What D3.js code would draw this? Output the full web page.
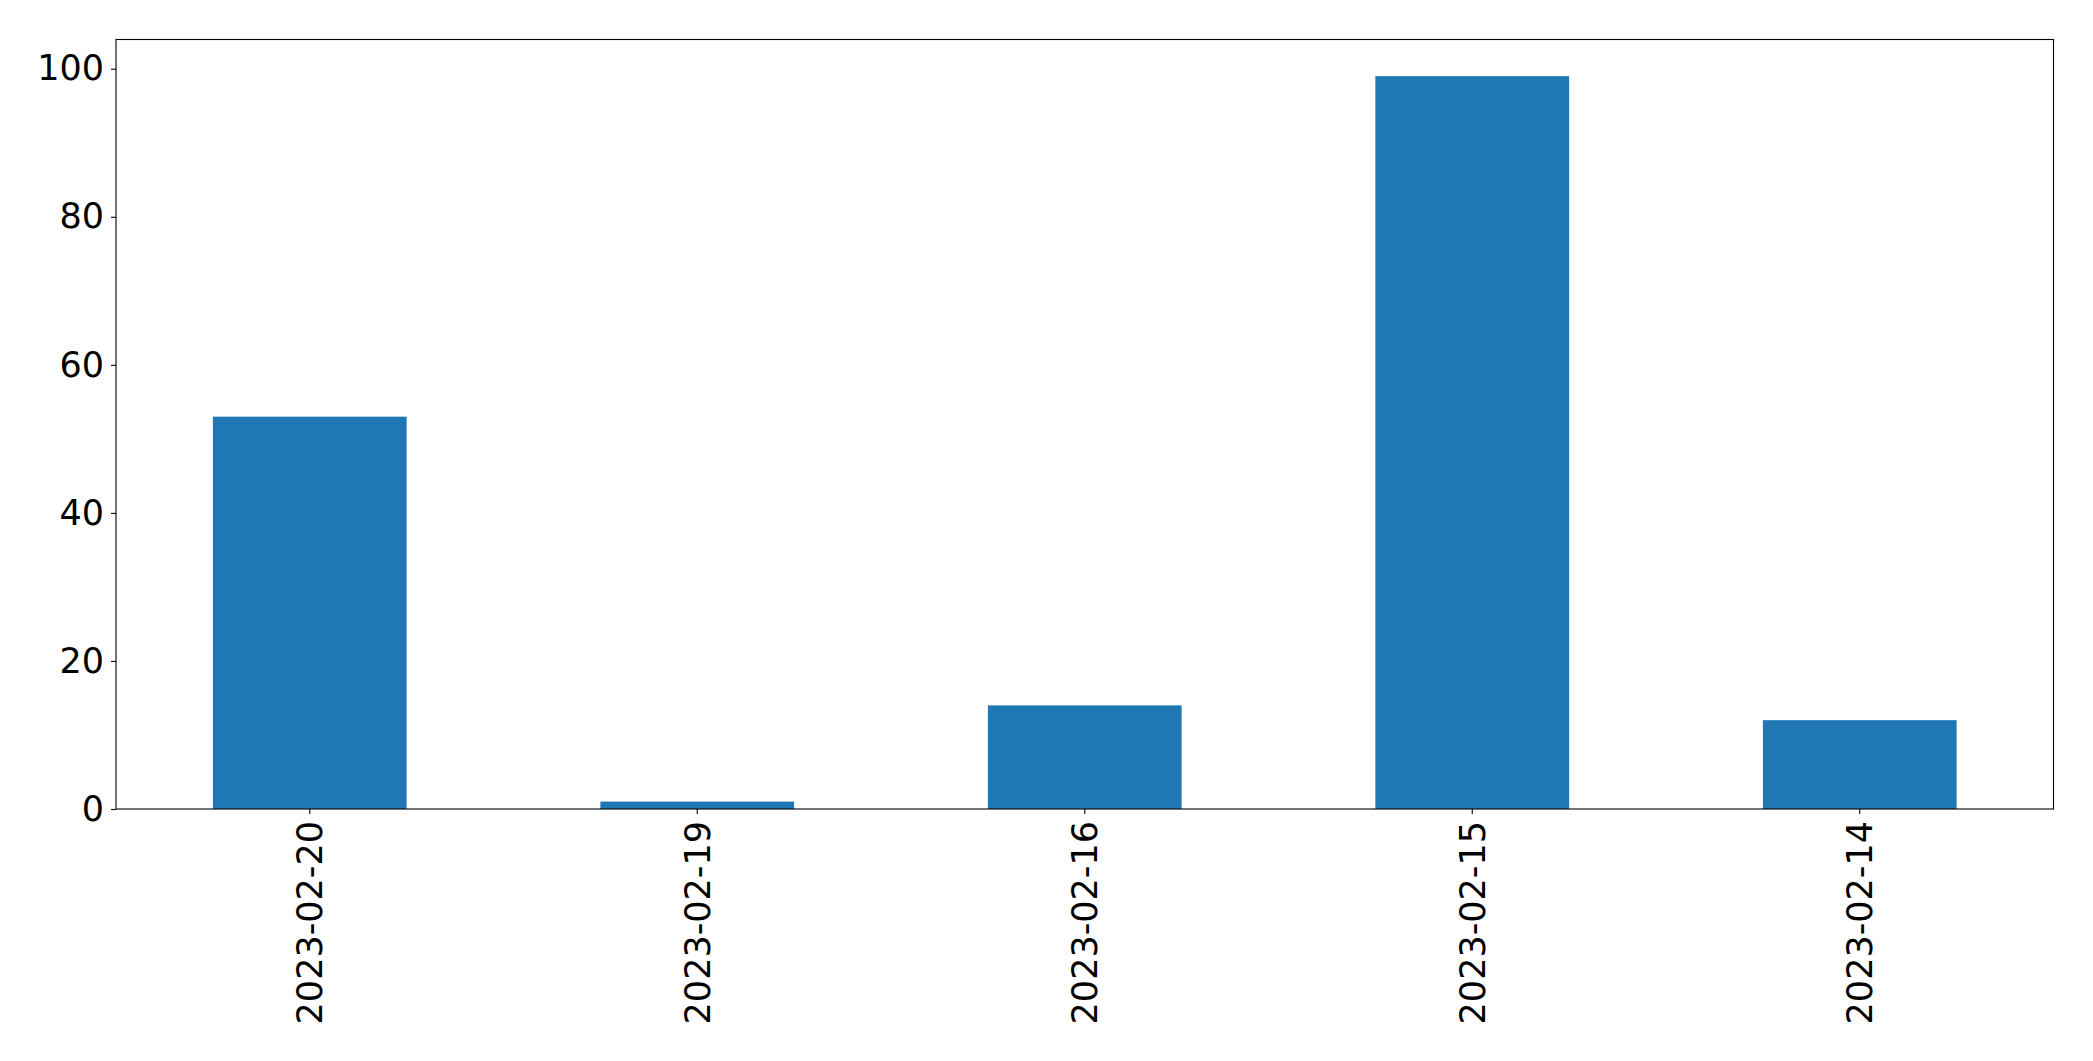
<!DOCTYPE html>
<html>
<head>
<meta charset="utf-8">
<script src="https://cdn.jsdelivr.net/npm/d3@7"></script>
<style>
html,body{margin:0;padding:0;background:#fff;}
svg{display:block;}
</style>
</head>
<body>
<script>
const categories = ["2023-02-20", "2023-02-19", "2023-02-16", "2023-02-15", "2023-02-14"];
const values = [53, 1, 14, 99, 12];
const yTicks = [0, 20, 40, 60, 80, 100];

const W = 2093, H = 1061;
const margin = {left: 116, top: 39.5, right: 2093 - 2053.5, bottom: 1061 - 809};
const iw = W - margin.left - margin.right;
const ih = H - margin.top - margin.bottom;

const svg = d3.select("body").append("svg").attr("width", W).attr("height", H);
const g = svg.append("g").attr("transform", `translate(${margin.left},${margin.top})`);

const x = d3.scaleBand().domain(categories).range([0, iw]).paddingInner(0.5).paddingOuter(0.25);
const y = d3.scaleLinear().domain([0, d3.max(values) * 1.05]).range([ih, 0]);

g.selectAll("rect.bar").data(values).enter().append("rect")
  .attr("class", "bar")
  .attr("x", (d, i) => x(categories[i]))
  .attr("width", x.bandwidth())
  .attr("y", d => y(d))
  .attr("height", d => y(0) - y(d))
  .attr("fill", "#1f77b4");

const font = "DejaVu Sans";
const fs = 35;

const yAxis = g.append("g").call(d3.axisLeft(y).tickValues(yTicks).tickSize(5).tickPadding(7).tickFormat(d3.format("d")));
yAxis.select(".domain").remove();
yAxis.selectAll("text").attr("font-family", font).attr("font-size", fs).attr("fill", "#000");
yAxis.selectAll("line").attr("stroke", "#000").attr("stroke-width", 1.1);

const xAxis = g.append("g").attr("transform", `translate(0,${ih})`)
  .call(d3.axisBottom(x).tickSize(5).tickPadding(0));
xAxis.select(".domain").remove();
xAxis.selectAll("line").attr("stroke", "#000").attr("stroke-width", 1.1);
xAxis.selectAll("text")
  .attr("font-family", font).attr("font-size", fs).attr("fill", "#000")
  .attr("transform", "translate(0,12) rotate(-90)")
  .attr("text-anchor", "end")
  .attr("x", 0).attr("y", 0).attr("dy", "0.35em");

g.append("rect").attr("x", 0).attr("y", 0).attr("width", iw).attr("height", ih)
  .attr("fill", "none").attr("stroke", "#000").attr("stroke-width", 1.1);
</script>
</body>
</html>
